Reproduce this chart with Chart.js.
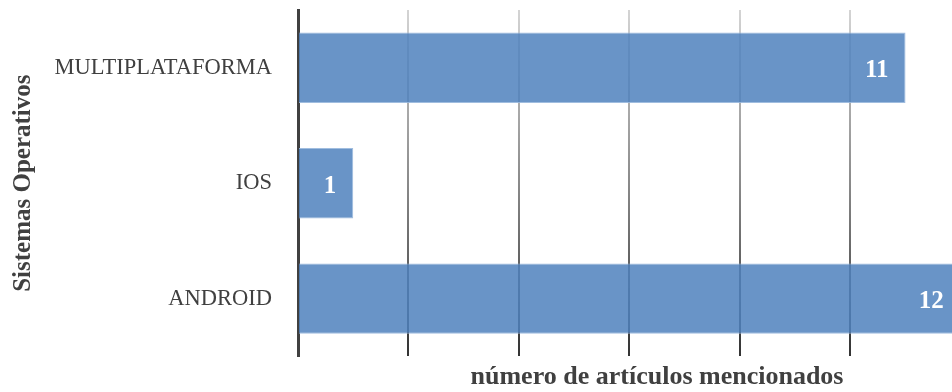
<!DOCTYPE html>
<html>
<head>
<meta charset="utf-8">
<script src="https://cdn.jsdelivr.net/npm/chart.js@4.4.1/dist/chart.umd.min.js"></script>
<style>
  html, body { margin: 0; padding: 0; background: #fff; overflow: hidden; }
  #wrap { width: 1016px; height: 392px; position: relative; }
</style>
</head>
<body>
<div id="wrap"><canvas id="chartCanvas"></canvas></div>
<script>
const categories = ['MULTIPLATAFORMA', 'IOS', 'ANDROID'];
const articleCounts = [11, 1, 12];
const axisMax = 13;
const axisStep = 2;

const serif = '"Liberation Serif", "DejaVu Serif", serif';

// grid lines fade from light grey at top to dark at bottom
function gridColor(ctx) {
  const chart = ctx.chart;
  const area = chart.chartArea;
  if (!area) return '#999';
  const g = chart.ctx.createLinearGradient(0, area.top, 0, area.bottom);
  g.addColorStop(0, '#d4d4d4');
  g.addColorStop(0.5, '#8a8a8a');
  g.addColorStop(1, '#333333');
  return g;
}

const valueLabels = {
  id: 'valueLabels',
  afterDatasetsDraw(chart) {
    const ctx = chart.ctx;
    const meta = chart.getDatasetMeta(0);
    ctx.save();
    ctx.font = 'bold 25px ' + serif;
    ctx.fillStyle = '#ffffff';
    ctx.textAlign = 'right';
    ctx.textBaseline = 'middle';
    meta.data.forEach((bar, i) => {
      ctx.fillText(String(articleCounts[i]), bar.x - 17, bar.y + 3);
    });
    ctx.restore();
  }
};

const ctx = document.getElementById('chartCanvas').getContext('2d');
new Chart(ctx, {
  type: 'bar',
  data: {
    labels: categories,
    datasets: [{
      data: articleCounts,
      backgroundColor: 'rgba(79,129,189,0.85)',
      borderColor: 'rgba(150,182,220,0.9)',
      borderWidth: 1,
      barPercentage: 0.67,
      categoryPercentage: 0.91
    }]
  },
  options: {
    indexAxis: 'y',
    responsive: true,
    maintainAspectRatio: false,
    animation: false,
    layout: { padding: { top: 10, right: 0, bottom: 0, left: 0 } },
    plugins: {
      legend: { display: false },
      tooltip: { enabled: false }
    },
    scales: {
      x: {
        min: 0,
        max: axisMax,
        ticks: { display: false, stepSize: axisStep },
        grid: { color: gridColor, lineWidth: 2, drawTicks: false },
        border: { display: false },
        title: {
          display: true,
          text: 'número de artículos mencionados',
          color: '#404040',
          font: { family: serif, size: 26, weight: 'bold', lineHeight: 1.1 },
          padding: { top: 7, bottom: 0 }
        }
      },
      y: {
        afterFit(scale) {
          scale.width = 298;
          scale.paddingTop = 0;
          scale.paddingBottom = 0;
        },
        ticks: {
          color: '#404040',
          padding: 26,
          font: { family: serif, size: 22.5 }
        },
        grid: { display: false, drawTicks: false },
        border: { display: true, color: '#404040', width: 3 },
        title: {
          display: true,
          text: 'Sistemas Operativos',
          color: '#404040',
          font: { family: serif, size: 25, weight: 'bold' },
          padding: { top: 9, bottom: 0 }
        }
      }
    }
  },
  plugins: [valueLabels]
});
</script>
</body>
</html>
